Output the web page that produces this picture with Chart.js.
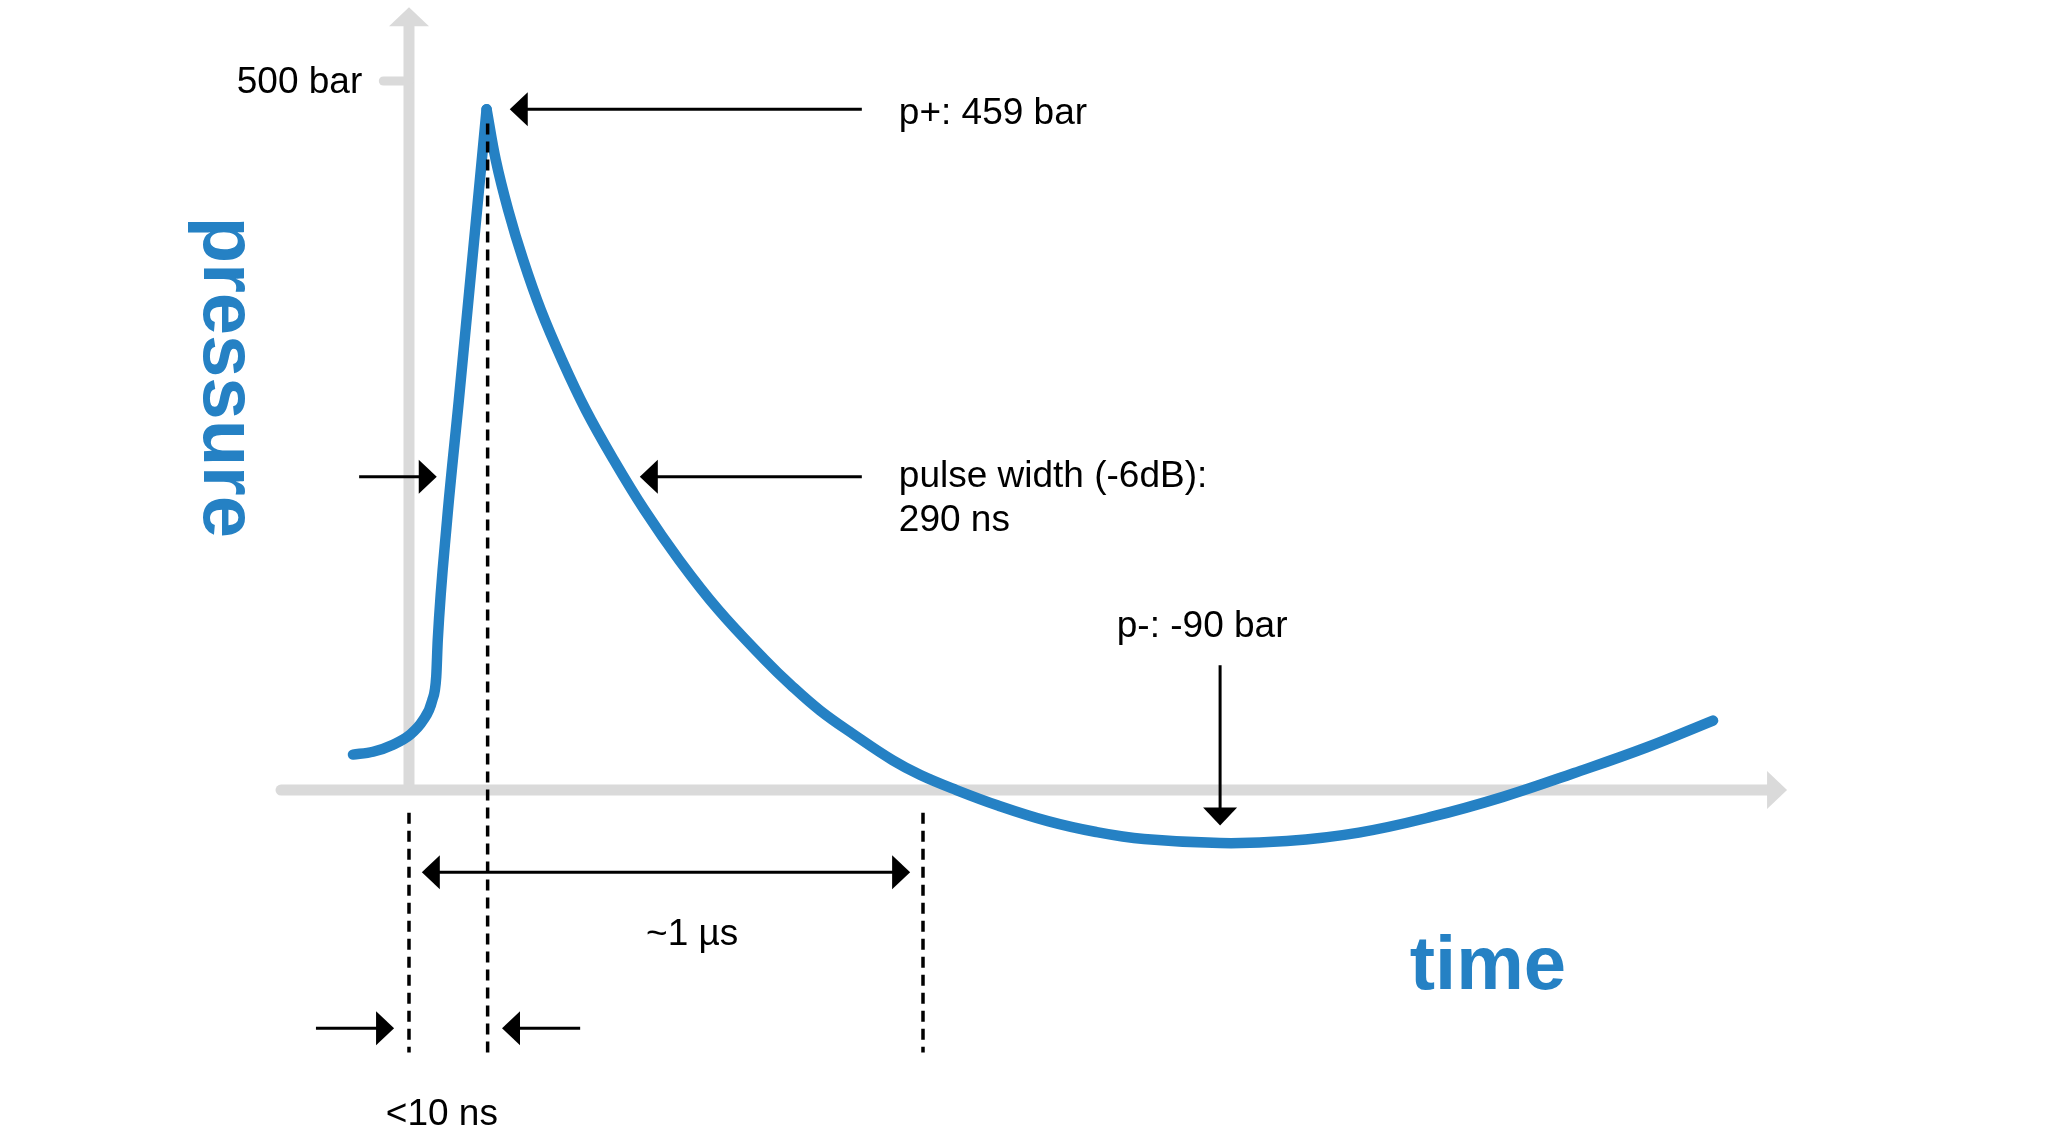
<!DOCTYPE html>
<html>
<head>
<meta charset="utf-8">
<script src="https://cdn.jsdelivr.net/npm/chart.js@4/dist/chart.umd.min.js"></script>
<style>
html,body{margin:0;padding:0;background:#ffffff;}
#wrap{width:2048px;height:1142px;}
</style>
</head>
<body>
<div id="wrap"><canvas id="c" width="2048" height="1142"></canvas></div>
<script>
// ---- data (time in ns, pressure in bar, schematic) ----
const riseTime     = [-109, -70, -31, 2, 27, 45, 53, 56, 74, 97, 151];
const risePressure = [25, 27, 32, 39, 49, 63, 80, 106, 190, 275, 480];
const fallTime     = [151, 169, 193, 222, 257, 298, 344, 398, 458, 526, 602, 692, 743, 800, 866, 941, 995, 1065, 1146, 1243, 1337, 1430, 1578, 1708, 1848, 1988, 2127, 2267, 2407, 2537];
const fallPressure = [480, 444, 409, 374, 338, 303, 268, 233, 197.5, 162, 127, 92, 74, 56, 39, 21, 10.6, 0, -10.9, -21.9, -29.6, -34.6, -37.4, -36, -30, -19, -5, 12, 30, 49];

// axis extents and tick
const xAxisRange = [-249, 2681];
const yAxisRange = [0, 552];
const yTickValue = 500;
const yTickLabel = "500 bar";

// annotation labels
const labelPeak = "p+: 459 bar";
const labelWidth = ["pulse width (-6dB):", "290 ns"];
const labelNeg = "p-: -90 bar";
const labelDuration = "~1 µs";
const labelRise = "<10 ns";
const axisTitleX = "time";
const axisTitleY = "pressure";

// annotation anchors (data units)
const dashedTimes = [0, 153, 1000];
const peakMark = {t: 151, p: 480};
const minMark = {t: 1578, p: -37};

const BLUE = "#2581c4";
const GRAY = "#dadada";
const BLACK = "#000000";
const TXT_DY = 4;

function arrowHead(ctx, x, y, dir) {
  const L = 18, W = 17;
  ctx.beginPath();
  if (dir === 'left') { ctx.moveTo(x, y); ctx.lineTo(x + L, y - W); ctx.lineTo(x + L, y + W); }
  if (dir === 'right') { ctx.moveTo(x, y); ctx.lineTo(x - L, y - W); ctx.lineTo(x - L, y + W); }
  if (dir === 'down') { ctx.moveTo(x, y); ctx.lineTo(x - W, y - L); ctx.lineTo(x + W, y - L); }
  ctx.closePath();
  ctx.fill();
}
function hArrow(ctx, x0, x1, y, dir) {
  ctx.beginPath(); ctx.moveTo(x0, y);
  ctx.lineTo(dir === 'left' ? x1 + 10 : x1 - 10, y); ctx.stroke();
  arrowHead(ctx, x1, y, dir);
}

const axesPlugin = {
  id: 'axesPlugin',
  beforeDatasetsDraw(chart) {
    const ctx = chart.ctx, xs = chart.scales.x, ys = chart.scales.y;
    const x0 = xs.getPixelForValue(0), y0 = ys.getPixelForValue(0);
    ctx.save();
    ctx.strokeStyle = GRAY; ctx.fillStyle = GRAY;
    // x axis
    ctx.lineWidth = 11; ctx.lineCap = 'round';
    const xa = xs.getPixelForValue(xAxisRange[0]), xb = xs.getPixelForValue(xAxisRange[1]);
    ctx.beginPath(); ctx.moveTo(xa, y0); ctx.lineTo(xb - 18, y0); ctx.stroke();
    ctx.beginPath(); ctx.moveTo(xb, y0); ctx.lineTo(xb - 20, y0 - 19); ctx.lineTo(xb - 20, y0 + 19); ctx.closePath(); ctx.fill();
    // y axis
    const yt = ys.getPixelForValue(yAxisRange[1]);
    ctx.lineCap = 'butt';
    ctx.beginPath(); ctx.moveTo(x0, y0); ctx.lineTo(x0, yt + 18); ctx.stroke();
    ctx.beginPath(); ctx.moveTo(x0, yt); ctx.lineTo(x0 - 20, yt + 19); ctx.lineTo(x0 + 20, yt + 19); ctx.closePath(); ctx.fill();
    // tick
    const ty = ys.getPixelForValue(yTickValue);
    ctx.lineWidth = 9; ctx.lineCap = 'round';
    ctx.beginPath(); ctx.moveTo(xs.getPixelForValue(-50), ty); ctx.lineTo(x0, ty); ctx.stroke();
    ctx.fillStyle = BLACK;
    ctx.font = '37px "Liberation Sans", Arial, sans-serif';
    ctx.textAlign = 'right'; ctx.textBaseline = 'middle';
    ctx.fillText(yTickLabel, xs.getPixelForValue(-91), ty + 2);
    ctx.restore();
  },
  afterDatasetsDraw(chart) {
    const ctx = chart.ctx, xs = chart.scales.x, ys = chart.scales.y;
    const X = v => xs.getPixelForValue(v), Y = v => ys.getPixelForValue(v);
    ctx.save();
    // dashed lines
    ctx.strokeStyle = BLACK; ctx.lineWidth = 3.5; ctx.setLineDash([11, 7]);
    [[dashedTimes[0], -16, -185], [dashedTimes[1], 470, -185], [dashedTimes[2], -16, -185]].forEach(d => {
      ctx.beginPath(); ctx.moveTo(X(d[0]), Y(d[1])); ctx.lineTo(X(d[0]), Y(d[2])); ctx.stroke();
    });
    ctx.setLineDash([]);
    ctx.fillStyle = BLACK; ctx.lineWidth = 3;
    // p+ arrow
    hArrow(ctx, X(881), X(196), Y(peakMark.p), 'left');
    // pulse width arrows
    hArrow(ctx, X(881), X(449), Y(221), 'left');
    hArrow(ctx, X(-97), X(54), Y(221), 'right');
    // ~1 us double arrow
    const yd = Y(-58);
    ctx.beginPath(); ctx.moveTo(X(25) + 10, yd); ctx.lineTo(X(975) - 10, yd); ctx.stroke();
    arrowHead(ctx, X(25), yd, 'left'); arrowHead(ctx, X(975), yd, 'right');
    // <10 ns arrows
    hArrow(ctx, X(-181), X(-29), Y(-168), 'right');
    hArrow(ctx, X(333), X(181), Y(-168), 'left');
    // p- arrow
    ctx.beginPath(); ctx.moveTo(X(minMark.t), Y(88)); ctx.lineTo(X(minMark.t), Y(-25) - 10); ctx.stroke();
    arrowHead(ctx, X(minMark.t), Y(-25), 'down');
    // labels
    ctx.font = '37px "Liberation Sans", Arial, sans-serif';
    ctx.textBaseline = 'middle'; ctx.textAlign = 'left';
    ctx.fillText(labelPeak, X(953), Y(peakMark.p) + TXT_DY);
    ctx.fillText(labelWidth[0], X(953), Y(224) + TXT_DY);
    ctx.fillText(labelWidth[1], X(953), Y(193) + TXT_DY);
    ctx.fillText(labelNeg, X(1377), Y(118) + TXT_DY);
    ctx.textAlign = 'center';
    ctx.fillText(labelDuration, X(551), Y(-99) + TXT_DY);
    ctx.fillText(labelRise, X(64), Y(-226) + TXT_DY);
    // axis titles
    ctx.fillStyle = BLUE;
    ctx.font = 'bold 76px "Liberation Sans", Arial, sans-serif';
    ctx.fillText(axisTitleX, X(2099), Y(-123) + TXT_DY);
    ctx.translate(X(-399), Y(291));
    ctx.rotate(Math.PI / 2);
    ctx.textBaseline = 'alphabetic';
    ctx.fillText(axisTitleY, 0, 0);
    ctx.restore();
  }
};

const lineStyle = {
  showLine: true, borderColor: BLUE, borderWidth: 10.5, pointRadius: 0,
  borderCapStyle: 'round', borderJoinStyle: 'round', fill: false
};

new Chart(document.getElementById('c'), {
  type: 'scatter',
  data: {
    datasets: [
      Object.assign({ data: riseTime.map((t, i) => ({x: t, y: risePressure[i]})), cubicInterpolationMode: 'monotone' }, lineStyle),
      Object.assign({ data: fallTime.map((t, i) => ({x: t, y: fallPressure[i]})), tension: 0.4 }, lineStyle)
    ]
  },
  options: {
    responsive: false, animation: false, devicePixelRatio: 1,
    layout: {padding: 0},
    plugins: {legend: {display: false}, tooltip: {enabled: false}, title: {display: false}},
    scales: {
      x: {type: 'linear', display: false, min: -795.7, max: 3188.7},
      y: {type: 'linear', display: false, min: -248.2, max: 557.1}
    }
  },
  plugins: [axesPlugin]
});
</script>
</body>
</html>
